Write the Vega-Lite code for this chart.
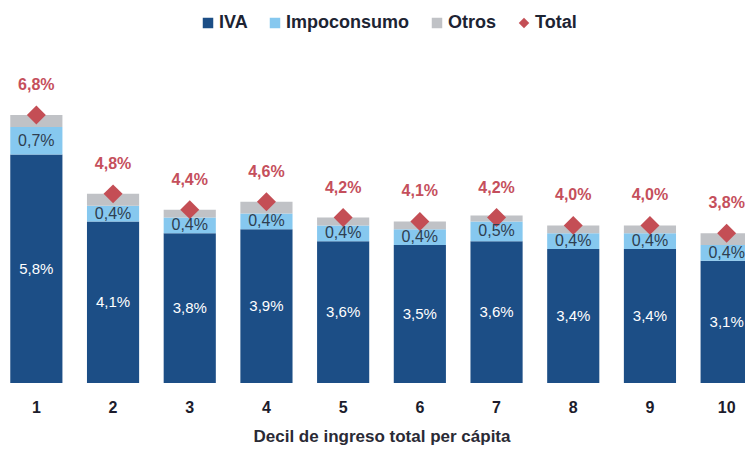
{
  "$schema": "https://vega.github.io/schema/vega-lite/v6.json",
  "width": 745,
  "height": 383,
  "autosize": {"type": "none"},
  "padding": {"left": 0, "right": 0, "top": 0, "bottom": 66},
  "config": {"view": {"stroke": null}, "font": "Liberation Sans"},
  "data": {
    "values": [
      {"decil": 1, "serie": "IVA", "valor": 5.8},
      {"decil": 1, "serie": "Impoconsumo", "valor": 0.7},
      {"decil": 1, "serie": "Otros", "valor": 0.3},
      {"decil": 1, "serie": "Total", "valor": 6.8},
      {"decil": 2, "serie": "IVA", "valor": 4.1},
      {"decil": 2, "serie": "Impoconsumo", "valor": 0.4},
      {"decil": 2, "serie": "Otros", "valor": 0.3},
      {"decil": 2, "serie": "Total", "valor": 4.8},
      {"decil": 3, "serie": "IVA", "valor": 3.8},
      {"decil": 3, "serie": "Impoconsumo", "valor": 0.4},
      {"decil": 3, "serie": "Otros", "valor": 0.2},
      {"decil": 3, "serie": "Total", "valor": 4.4},
      {"decil": 4, "serie": "IVA", "valor": 3.9},
      {"decil": 4, "serie": "Impoconsumo", "valor": 0.4},
      {"decil": 4, "serie": "Otros", "valor": 0.3},
      {"decil": 4, "serie": "Total", "valor": 4.6},
      {"decil": 5, "serie": "IVA", "valor": 3.6},
      {"decil": 5, "serie": "Impoconsumo", "valor": 0.4},
      {"decil": 5, "serie": "Otros", "valor": 0.2},
      {"decil": 5, "serie": "Total", "valor": 4.2},
      {"decil": 6, "serie": "IVA", "valor": 3.5},
      {"decil": 6, "serie": "Impoconsumo", "valor": 0.4},
      {"decil": 6, "serie": "Otros", "valor": 0.2},
      {"decil": 6, "serie": "Total", "valor": 4.1},
      {"decil": 7, "serie": "IVA", "valor": 3.6},
      {"decil": 7, "serie": "Impoconsumo", "valor": 0.5},
      {"decil": 7, "serie": "Otros", "valor": 0.15},
      {"decil": 7, "serie": "Total", "valor": 4.2},
      {"decil": 8, "serie": "IVA", "valor": 3.4},
      {"decil": 8, "serie": "Impoconsumo", "valor": 0.4},
      {"decil": 8, "serie": "Otros", "valor": 0.2},
      {"decil": 8, "serie": "Total", "valor": 4.0},
      {"decil": 9, "serie": "IVA", "valor": 3.4},
      {"decil": 9, "serie": "Impoconsumo", "valor": 0.4},
      {"decil": 9, "serie": "Otros", "valor": 0.2},
      {"decil": 9, "serie": "Total", "valor": 4.0},
      {"decil": 10, "serie": "IVA", "valor": 3.1},
      {"decil": 10, "serie": "Impoconsumo", "valor": 0.4},
      {"decil": 10, "serie": "Otros", "valor": 0.3},
      {"decil": 10, "serie": "Total", "valor": 3.8}
    ]
  },
  "encoding": {
    "x": {
      "field": "decil",
      "type": "ordinal",
      "scale": {"range": [-2, 765], "paddingInner": 0.32, "paddingOuter": 0.16},
      "axis": {
        "title": "Decil de ingreso total per cápita",
        "labelAngle": 0,
        "domain": false,
        "ticks": false,
        "labelPadding": 16,
        "labelFontSize": 16,
        "labelFontWeight": "bold",
        "labelColor": "#1c1c2c",
        "titleFontSize": 17,
        "titleFontWeight": "bold",
        "titleColor": "#2a2a35",
        "titlePadding": 13
      }
    }
  },
  "layer": [
    {
      "transform": [{"filter": "datum.serie !== 'Total'"}],
      "mark": {"type": "bar"},
      "encoding": {
        "y": {"field": "valor", "type": "quantitative", "aggregate": "sum", "stack": "zero", "scale": {"domain": [0, 9.72], "nice": false}, "axis": null},
        "order": {"field": "serie", "sort": "ascending"},
        "color": {
          "field": "serie",
          "type": "nominal",
          "scale": {"domain": ["IVA", "Impoconsumo", "Otros", "Total"], "range": ["#1c4e86", "#86c8ef", "#c0c2c6", "#c44e55"]},
          "legend": {
            "title": null,
            "orient": "none",
            "legendX": 199,
            "legendY": 14,
            "direction": "horizontal",
            "padding": 0,
            "labelFontSize": 18,
            "labelFontWeight": "bold",
            "labelColor": "#1d2433",
            "symbolSize": 110,
            "symbolStrokeWidth": 0,
            "labelOffset": 2,
            "columnPadding": 18
          }
        }
      }
    },
    {
      "transform": [{"filter": "datum.serie === 'Total'"}],
      "mark": {"type": "point", "filled": true, "size": 360, "opacity": 1},
      "encoding": {
        "y": {"field": "valor", "type": "quantitative", "scale": {"domain": [0, 9.72], "nice": false}, "axis": null},
        "color": {"field": "serie", "type": "nominal"},
        "shape": {
          "field": "serie",
          "type": "nominal",
          "scale": {"domain": ["IVA", "Impoconsumo", "Otros", "Total"], "range": ["square", "square", "square", "diamond"]}
        }
      }
    },
    {
      "transform": [
        {"filter": "datum.serie !== 'Total'"},
        {"stack": "valor", "groupby": ["decil"], "sort": [{"field": "serie", "order": "ascending"}], "as": ["v0", "v1"]},
        {"calculate": "(datum.v0 + datum.v1) / 2", "as": "mid"},
        {"calculate": "replace(format(datum.valor, '.1f'), '.', ',') + '%'", "as": "etiqueta"},
        {"filter": "datum.serie === 'IVA'"}
      ],
      "mark": {"type": "text", "color": "#ffffff", "fontSize": 15, "baseline": "middle"},
      "encoding": {
        "y": {"field": "mid", "type": "quantitative", "scale": {"domain": [0, 9.72], "nice": false}, "axis": null},
        "text": {"field": "etiqueta"}
      }
    },
    {
      "transform": [
        {"filter": "datum.serie !== 'Total'"},
        {"stack": "valor", "groupby": ["decil"], "sort": [{"field": "serie", "order": "ascending"}], "as": ["v0", "v1"]},
        {"calculate": "(datum.v0 + datum.v1) / 2", "as": "mid"},
        {"calculate": "replace(format(datum.valor, '.1f'), '.', ',') + '%'", "as": "etiqueta"},
        {"filter": "datum.serie === 'Impoconsumo'"}
      ],
      "mark": {"type": "text", "color": "#2f3e50", "fontSize": 16, "baseline": "middle"},
      "encoding": {
        "y": {"field": "mid", "type": "quantitative", "scale": {"domain": [0, 9.72], "nice": false}, "axis": null},
        "text": {"field": "etiqueta"}
      }
    },
    {
      "transform": [
        {"filter": "datum.serie === 'Total'"},
        {"calculate": "replace(format(datum.valor, '.1f'), '.', ',') + '%'", "as": "etiqueta"}
      ],
      "mark": {"type": "text", "color": "#c54f5c", "fontSize": 16, "fontWeight": "bold", "baseline": "middle", "dy": -30},
      "encoding": {
        "y": {"field": "valor", "type": "quantitative", "scale": {"domain": [0, 9.72], "nice": false}, "axis": null},
        "text": {"field": "etiqueta"}
      }
    }
  ]
}
